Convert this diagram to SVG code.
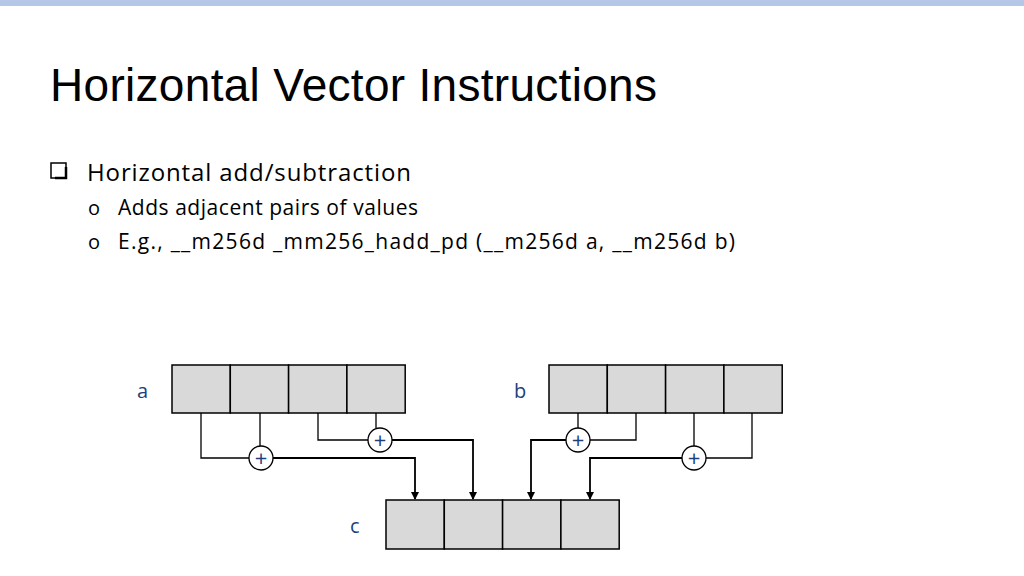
<svg xmlns="http://www.w3.org/2000/svg" width="1024" height="576" viewBox="0 0 1024 576">
<style>
.cell{fill:#d9d9d9;stroke:#000;stroke-width:1.5}
.ln{fill:none;stroke:#000;stroke-width:1.3}
.ar{fill:none;stroke:#000;stroke-width:1.8;marker-end:url(#ah)}
.op{fill:#fff;stroke:#000;stroke-width:1.3}
.pl{font-family:"Open Sans","Liberation Sans",sans-serif;font-size:22px;fill:#1f3f7a;text-anchor:middle}
.lb{font-family:"Open Sans","Liberation Sans",sans-serif;font-size:20px;fill:#1f3f7a}
.bt{font-family:"Open Sans","Liberation Sans",sans-serif;fill:#000}
</style>
<defs><marker id="ah" markerWidth="8" markerHeight="8" refX="7" refY="4" orient="auto" markerUnits="userSpaceOnUse"><path d="M0,0 L8,4 L0,8 z" fill="#000"/></marker></defs>
<rect x="0" y="0" width="1024" height="6" fill="#b4c7e7"/>
<text x="50" y="101" font-family="Liberation Sans,Arial,sans-serif" font-size="46" textLength="607" fill="#000">Horizontal Vector Instructions</text>
<rect x="51" y="163" width="15" height="15" fill="none" stroke="#000" stroke-width="1.5"/>
<path d="M55,178 H66 V167" stroke="#000" stroke-width="2.5" fill="none"/>
<text class="bt" x="87" y="181" font-size="24" textLength="324">Horizontal add/subtraction</text>
<text class="bt" x="88" y="215" font-size="20">o</text>
<text class="bt" x="118" y="215" font-size="21" textLength="300">Adds adjacent pairs of values</text>
<text class="bt" x="88" y="249" font-size="20">o</text>
<text class="bt" x="118" y="249" font-size="21" textLength="617">E.g., __m256d _mm256_hadd_pd (__m256d a, __m256d b)</text>
<g id="a"><rect class="cell" x="172" y="365" width="58.3" height="48"/><rect class="cell" x="230.3" y="365" width="58.3" height="48"/><rect class="cell" x="288.6" y="365" width="58.3" height="48"/><rect class="cell" x="346.9" y="365" width="58.3" height="48"/><text class="lb" x="137" y="398">a</text></g>
<g id="b"><rect class="cell" x="549" y="365" width="58.3" height="48"/><rect class="cell" x="607.3" y="365" width="58.3" height="48"/><rect class="cell" x="665.6" y="365" width="58.3" height="48"/><rect class="cell" x="723.9" y="365" width="58.3" height="48"/><text class="lb" x="514" y="398">b</text></g>
<g id="c"><rect class="cell" x="386" y="500" width="58.3" height="49"/><rect class="cell" x="444.3" y="500" width="58.3" height="49"/><rect class="cell" x="502.6" y="500" width="58.3" height="49"/><rect class="cell" x="560.9" y="500" width="58.3" height="49"/><text class="lb" x="350" y="533">c</text></g>
<g id="connectors">
<path class="ln" d="M201,413 V458 H249 M260,413 V446 M318,413 V440 H368 M376,413 V428"/>
<path class="ln" d="M578,413 V428 M636,413 V440 H590 M694,413 V446 M752,413 V458 H706"/>
<path class="ar" d="M273,458 H415 V499"/>
<path class="ar" d="M392,440 H473 V499"/>
<path class="ar" d="M566,440 H531 V499"/>
<path class="ar" d="M682,458 H590 V499"/>
</g>
<g id="p1"><circle class="op" cx="261" cy="458" r="12"/><text class="pl" x="261" y="465.5">+</text></g>
<g id="p2"><circle class="op" cx="380" cy="440" r="12"/><text class="pl" x="380" y="447.5">+</text></g>
<g id="p3"><circle class="op" cx="578" cy="440" r="12"/><text class="pl" x="578" y="447.5">+</text></g>
<g id="p4"><circle class="op" cx="694" cy="458" r="12"/><text class="pl" x="694" y="465.5">+</text></g>
</svg>
